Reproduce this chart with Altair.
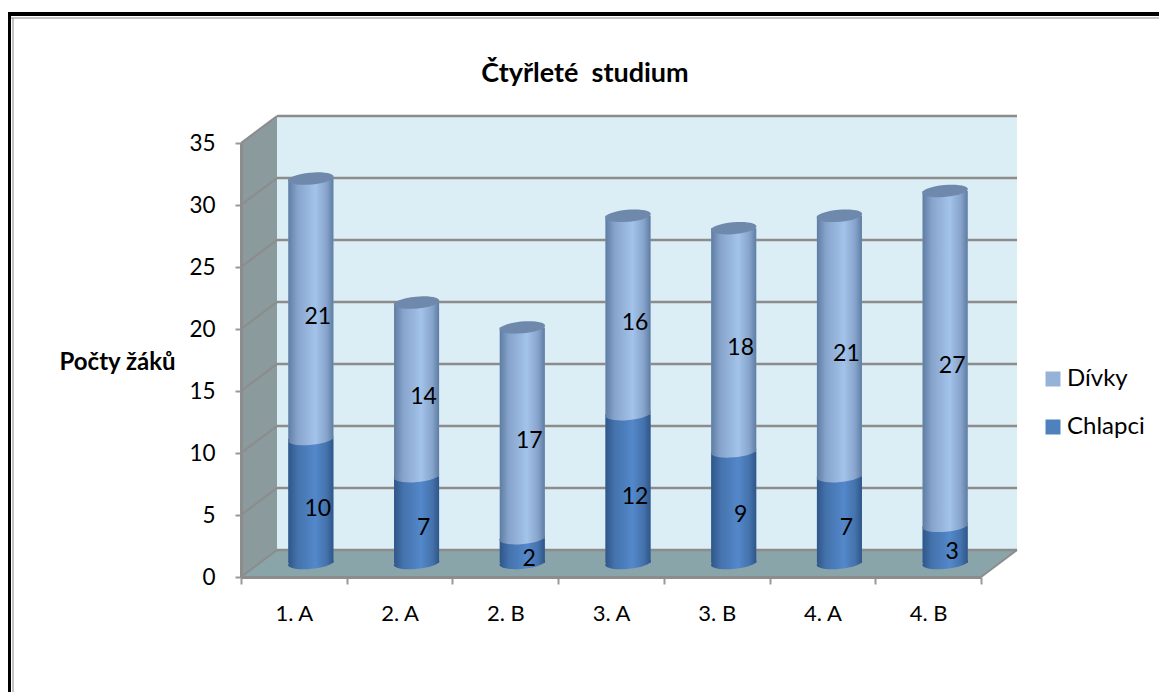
import altair as alt
import pandas as pd

classes = ["1. A", "2. A", "2. B", "3. A", "3. B", "4. A", "4. B"]
chlapci = [10, 7, 2, 12, 9, 7, 3]
divky = [21, 14, 17, 16, 18, 21, 27]
y_ticks = [0, 5, 10, 15, 20, 25, 30, 35]
series_order = ["Dívky", "Chlapci"]
series_colors = ["#95B3D7", "#4F81BD"]

FONT = "Lato"
W, H = 740, 434
DX, DY = 36, -27
GRID = "#8C8C8C"
BAR_DY = -14
BAR_DX = 17
Y_TITLE = "Počty žáků"

rows = []
for c, a, b in zip(classes, chlapci, divky):
    rows.append(dict(cls=c, series="Chlapci", value=a, start=0, end=a, mid=a / 2))
    rows.append(dict(cls=c, series="Dívky", value=b, start=a, end=a + b, mid=a + b / 2))
df = pd.DataFrame(rows)
ticks = pd.DataFrame({"tick": y_ticks})
one = pd.DataFrame({"k": [0]})

x_enc = alt.X(
    "cls:N",
    sort=classes,
    title=None,
    scale=alt.Scale(domain=classes, paddingInner=0, paddingOuter=0, round=False),
    axis=alt.Axis(
        labelAngle=0, labelFont=FONT, labelFontSize=22, labelColor="#000000", labelPadding=19,
        tickBand="extent", tickSize=7, tickColor="#999999", tickWidth=2,
        domainColor=GRID, domainWidth=3, zindex=1, grid=False,
    ),
)
y_scale = alt.Scale(domain=[0, 35], nice=False, zero=False)
y_axis = alt.Axis(
    values=y_ticks, labelFont=FONT, labelFontSize=22.5, labelColor="#000000", labelPadding=20,
    tickSize=6, tickColor="#999999", tickWidth=2, domainColor=GRID, domainWidth=3, grid=False, zindex=1,
    title=Y_TITLE, titleFont=FONT, titleFontSize=24, titleFontWeight="bold", titleColor="#000000",
    titleAngle=0, titleX=-124, titleY=231, titleAlign="center",
)


def Y(field):
    return alt.Y(field, scale=y_scale, axis=y_axis, title=Y_TITLE)


def shape_layer(path, fill):
    return alt.Chart(one).mark_point(shape=path, size=4, filled=True, fill=fill, opacity=1, strokeWidth=0).encode(
        x=alt.value(0), y=alt.value(0)
    )


back_wall = f"M{DX},{DY}H{W + DX}V{H + DY}H{DX}Z"
left_wall = f"M0,0L{DX},{DY}V{H + DY}L0,{H}Z"
floor = f"M0,{H}L{DX},{H + DY}H{W + DX}L{W},{H}Z"

layers = [
    shape_layer(back_wall, "#DCEEF5"),
    shape_layer(left_wall, "#8B9A9C"),
    shape_layer(floor, "#8AA5A9"),
]

# gridlines on the back wall and on the side wall
layers.append(
    alt.Chart(ticks).mark_rule(color=GRID, strokeWidth=2.5, yOffset=DY).encode(
        x=alt.value(DX), x2=alt.value(W + DX), y=Y("tick:Q")
    )
)
layers.append(
    alt.Chart(ticks).mark_rule(color=GRID, strokeWidth=2, y2Offset=DY).encode(
        x=alt.value(0), x2=alt.value(DX), y=Y("tick:Q"), y2=alt.Y2("tick:Q", title=Y_TITLE)
    )
)
layers.append(
    alt.Chart(one).mark_rule(color=GRID, strokeWidth=2).encode(
        x=alt.value(W), x2=alt.value(W + DX), y=alt.value(H), y2=alt.value(H + DY)
    )
)

# plain bars: carry the axes and the legend
layers.append(
    alt.Chart(df).mark_bar(size=45, xOffset=BAR_DX, yOffset=BAR_DY, y2Offset=BAR_DY).encode(
        x=x_enc,
        y=Y("start:Q"),
        y2=alt.Y2("end:Q", title=Y_TITLE),
        color=alt.Color(
            "series:N",
            scale=alt.Scale(domain=series_order, range=series_colors),
            legend=alt.Legend(
                title=None, orient="none", legendX=800, legendY=224, symbolType="square", symbolSize=225,
                symbolStrokeWidth=0, labelFont=FONT, labelFontSize=24, labelColor="#000000",
                rowPadding=24, labelOffset=2, columnPadding=0,
            ),
        ),
    )
)


def cyl(c0, c1, c2):
    return alt.Gradient(
        gradient="linear", x1=0, x2=1, y1=0, y2=0,
        stops=[
            alt.GradientStop(offset=0, color=c0),
            alt.GradientStop(offset=0.2, color=c1),
            alt.GradientStop(offset=0.6, color=c2),
            alt.GradientStop(offset=0.85, color=c1),
            alt.GradientStop(offset=1, color=c0),
        ],
    )


dark = cyl("#2F5688", "#4472AC", "#5388CA")
light = cyl("#5F7CA3", "#86A3CB", "#A3C3EB")
top_fill = "#6F89AC"
ELLIPSE = "M-1,0.04A1,0.26,-5,1,1,1,-0.04A1,0.26,-5,1,1,-1,0.04Z"
ELLIPSE_SIZE = 2025


def ellipse(data_filter, field, fill):
    return (
        alt.Chart(df)
        .transform_filter(data_filter)
        .mark_point(shape=ELLIPSE, size=ELLIPSE_SIZE, filled=True, fill=fill, opacity=1, strokeWidth=0,
                    xOffset=BAR_DX, yOffset=BAR_DY)
        .encode(x=x_enc, y=Y(field))
    )


def segment(name, fill):
    return (
        alt.Chart(df)
        .transform_filter(alt.datum.series == name)
        .mark_bar(size=45, fill=fill, xOffset=BAR_DX, yOffset=BAR_DY, y2Offset=BAR_DY)
        .encode(x=x_enc, y=Y("start:Q"), y2=alt.Y2("end:Q", title=Y_TITLE))
    )


layers += [
    ellipse(alt.datum.series == "Chlapci", "start:Q", dark),
    segment("Chlapci", dark),
    segment("Dívky", light),
    ellipse(alt.datum.series == "Dívky", "start:Q", light),
    ellipse(alt.datum.series == "Dívky", "end:Q", top_fill),
]

layers.append(
    alt.Chart(df).mark_text(font=FONT, fontSize=23, color="#000000", dx=BAR_DX + 7, dy=BAR_DY + 8, baseline="middle").encode(
        x=x_enc, y=Y("mid:Q"), text="value:Q"
    )
)

# page border, top and left only
for px, py, qx, qy, col, wd in [
    (-241, -129, 1000, -129, "#000000", 4),
    (-241, -125, 1000, -125, "#888888", 1),
    (-232, -129, -232, 600, "#000000", 4),
    (-228, -125, -228, 600, "#888888", 1),
]:
    layers.append(
        alt.Chart(one).mark_rule(color=col, strokeWidth=wd).encode(
            x=alt.value(px), x2=alt.value(qx), y=alt.value(py), y2=alt.value(qy)
        )
    )

chart = (
    alt.layer(*layers)
    .properties(
        width=W,
        height=H,
        padding={"left": 233, "top": 135, "right": 178, "bottom": 115},
        autosize=alt.AutoSizeParams(type="none"),
        title=alt.TitleParams(
            "Čtyřleté\u00a0 studium", font=FONT, fontSize=27, fontWeight="bold", color="#000000",
            anchor="middle", dx=-26, offset=-76,
        ),
    )
    .configure_view(stroke=None)
)

chart.save("out.html", embed_options={"renderer": "svg", "actions": False})
